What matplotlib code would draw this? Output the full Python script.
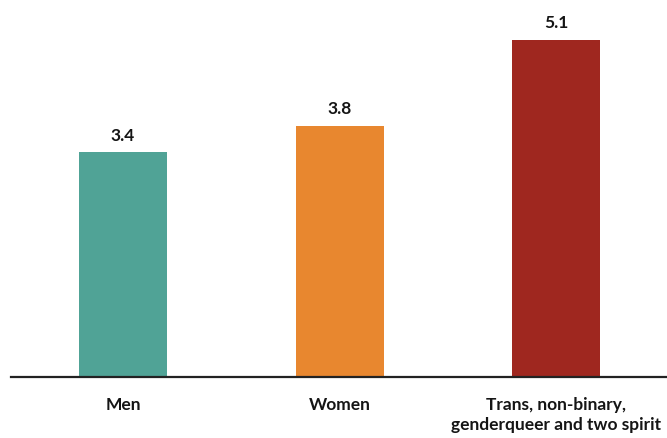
import matplotlib
matplotlib.use("Agg")
import matplotlib.pyplot as plt
import numpy as np

# chart data
categories = ["Men", "Women", "Trans, non-binary,\ngenderqueer and two spirit"]
values = [3.4, 3.8, 5.1]
bar_colors = ["#50A396", "#E8872F", "#9F271F"]

plt.rcParams['font.family'] = ['Lato', 'DejaVu Sans']

W, H = 667, 439
fig = plt.figure(figsize=(W / 100, H / 100), dpi=100)
# axes placed so that the baseline sits where the reference draws it
ax = fig.add_axes([11 / W, (H - 378) / H, (W - 11) / W, 378 / H])

x = np.arange(len(categories))
bars = ax.bar(x, values, width=0.406, color=bar_colors, zorder=2)

for rect, v in zip(bars, values):
    ax.annotate('{:.1f}'.format(v),
                xy=(rect.get_x() + rect.get_width() / 2, rect.get_height()),
                xytext=(0, 7), textcoords='offset points',
                ha='center', va='bottom', fontsize=12.5, fontweight='bold',
                color='#151515')

ax.set_xlim(-0.517, 2.51)
ax.set_ylim(0, 378 / 66.05)
ax.set_xticks(x)
ax.set_xticklabels(categories, fontsize=12.5, fontweight='bold', color='#151515',
                   linespacing=1.25)
ax.tick_params(axis='x', length=0, pad=14)
ax.set_yticks([])

for side in ['top', 'right', 'left']:
    ax.spines[side].set_visible(False)
ax.spines['bottom'].set_color('#222222')
ax.spines['bottom'].set_linewidth(1.6)

fig.savefig('out.png', dpi=100)
